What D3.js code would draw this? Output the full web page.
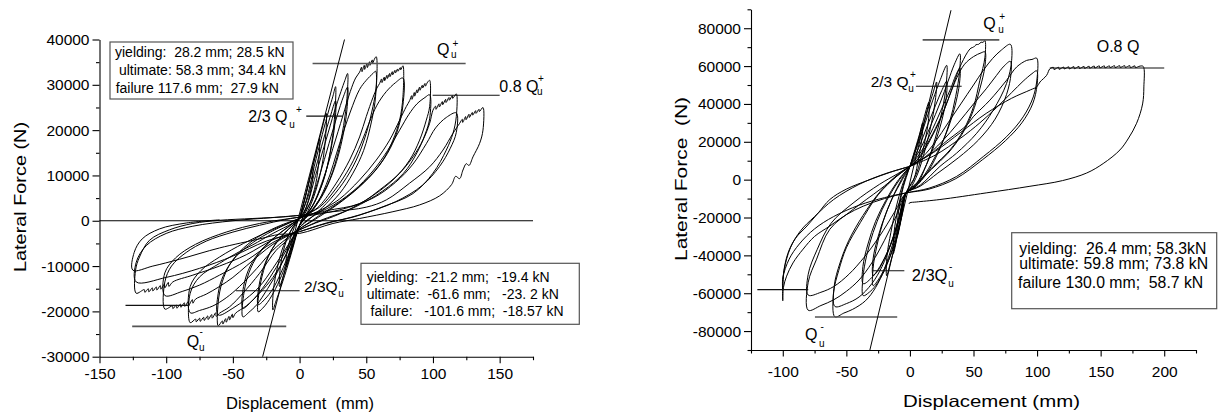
<!DOCTYPE html>
<html><head><meta charset="utf-8">
<script src="https://cdn.jsdelivr.net/npm/d3@7"></script>
<style>body{margin:0;background:#fff}svg text{font-family:Arial,"Liberation Sans",Helvetica,sans-serif;fill:#000}</style>
</head><body><svg id="c" width="1220" height="418"></svg>
<script>
// ---------- axis ticks ----------
const leftXTicks=[-150,-100,-50,0,50,100,150];
const leftXMinor=[-125,-75,-25,25,75,125,175];
const leftYTicks=[-30000,-20000,-10000,0,10000,20000,30000,40000];
const leftYMinor=[-25000,-15000,-5000,5000,15000,25000,35000];
const rightXTicks=[-100,-50,0,50,100,150,200];
const rightXMinor=[-125,-75,-25,25,75,125,175,225];
const rightYTicks=[-80000,-60000,-40000,-20000,0,20000,40000,60000,80000];
const rightYMinor=[-90000,-70000,-50000,-30000,-10000,10000,30000,50000,70000,90000];

// ---------- left specimen cycles: [displacement mm, force kN] ----------
const leftC10=[[0,0.5],[4,5],[7,8.5],[10,12],[9.5,9],[8,6],[5,3],[2,0.5],[0,-1],[-3,-3.5],[-6,-6.5],[-10,-10],[-9.5,-7],[-7,-4],[-4,-1.5],[0,0.5]];
const leftC15=[[0,0.5],[4,5],[9,11],[12,14.5],[15,18],[14.5,13.5],[12,8],[8,4],[3,1],[0,-1],[-4,-4.5],[-8,-8.5],[-12,-12],[-15,-14.5],[-14.5,-10.5],[-12,-6.5],[-8,-3],[-3,-0.5],[0,0.5]];
const leftC20=[[0,0.5],[4,4.8],[9,11],[14,17],[17,20.5],[20,23.7],[19.5,18.5],[17,12.5],[12,6.5],[6,2],[0,-1],[-5,-6],[-10,-11],[-15,-15.5],[-18,-18],[-20,-19.7],[-19.5,-15],[-16,-9.5],[-12,-5.5],[-6,-2],[0,0.5]];
const leftC27=[[0,0.5],[5,4.5],[11,12],[17,19],[22,24.5],[25,27.5],[27,29.6],[26.5,24],[24,17],[19,10],[12,4.5],[5,1],[0,-1],[-6,-6],[-12,-11],[-18,-15],[-24,-18],[-28,-19.4],[-31,-20.1],[-30.5,-16],[-27,-11],[-22,-7],[-14,-3.5],[-6,-1.2],[0,0.5]];
const leftC27b=[[0,0.5],[6,5],[12,11.5],[18,18],[23,23],[27,26.5],[26.5,21.5],[23,15],[18,9],[11,4],[4,0.8],[0,-1],[-7,-6.5],[-14,-11.5],[-20,-15],[-26,-17.3],[-31,-18.5],[-30.5,-14.5],[-26,-9.5],[-20,-6],[-12,-3],[-5,-1],[0,0.5]];
const leftC36=[[0,0.5],[5,3],[12,10],[20,18],[26,24],[31,28.5],[34,31],[36,32.5],[35.5,27],[33,21],[28,14],[21,8],[12,3.5],[4,0.5],[0,-1],[-8,-6],[-16,-11],[-24,-15],[-32,-18.5],[-38,-20.2],[-42.5,-21.2],[-42,-16.5],[-38,-11.5],[-31,-7.5],[-20,-4],[-9,-1.5],[0,0.5]];
const leftC36b=[[0,0.5],[8,4],[15,10],[22,17],[28,23],[33,27.5],[36,29.5],[35.5,24.5],[32,18],[26,11.5],[18,6],[9,2],[0,-1],[-10,-6.5],[-20,-11.5],[-28,-15],[-36,-17.8],[-42.5,-19.3],[-42,-14.5],[-37,-10],[-29,-6.5],[-18,-3.5],[-8,-1.2],[0,0.5]];
const leftC57=[[0,0.5],[5,1.5],[10,3.5],[17.5,9],[25,16],[32.5,23.2],[38,28.5],[42,31.5],[45,32.8],[46.5,33.9],[46.8,32.9],[48.5,34.3],[48.8,33.4],[50.5,34.7],[50.8,33.8],[52.5,35.1],[52.8,34.3],[54.5,35.5],[54.8,34.8],[56.5,35.9],[57.5,36.2],[57.5,29.6],[55,25.2],[50,19.3],[42.5,13.4],[32.5,8.3],[20,3.8],[8,0.5],[0,-1.5],[-5,-4],[-10,-7.5],[-20,-12.5],[-30,-16],[-40,-18.8],[-48,-20.4],[-50,-21.4],[-50.4,-20.6],[-52.5,-21.9],[-52.9,-21.1],[-55,-22.4],[-55.4,-21.6],[-57.5,-22.8],[-57.9,-22.1],[-61,-23.2],[-61,-18],[-58,-13.5],[-52,-9.5],[-42,-6],[-28,-3],[-14,-1],[0,0.5]];
const leftC57b=[[0,0.5],[10,2.5],[20,8],[30,17],[38,24],[45,29],[50,31],[55,32.5],[57,33],[57,27.5],[54,22],[48,15.5],[40,10.5],[30,6],[18,2.5],[5,0],[0,-1.5],[-10,-6],[-20,-10.5],[-30,-14.5],[-40,-17.2],[-50,-19.3],[-61,-20.8],[-61,-16],[-57,-12],[-48,-8],[-35,-4.8],[-20,-2.2],[0,0.5]];
const leftC77=[[0,0.8],[8,1.8],[15,3.3],[27.5,8.3],[37.5,13.4],[45,18.5],[50,23],[55,27.2],[58,29.3],[60,30.3],[61.5,31.3],[61.8,30.5],[63.5,31.7],[63.8,30.9],[65.5,32.1],[65.8,31.4],[67.5,32.5],[67.8,31.8],[69.5,32.9],[69.8,32.2],[71.5,33.2],[71.8,32.6],[73.5,33.5],[73.8,33],[75.5,33.8],[75.8,33.3],[77.5,34.2],[77.5,27.4],[75,22.2],[70,17.8],[62.5,13.4],[50,9],[32.5,4.6],[15,1.2],[5,-0.8],[0,-1.8],[-5,-3],[-10,-4.5],[-17.5,-6.5],[-30,-11.6],[-42.5,-16],[-52.5,-19],[-60,-20.4],[-62.5,-21.1],[-62.9,-20.3],[-65.5,-21.5],[-65.9,-20.7],[-68.5,-21.8],[-68.9,-21],[-71.5,-22],[-71.9,-21.3],[-74.5,-22.2],[-74.9,-21.5],[-77.5,-22.3],[-77.9,-21.7],[-82,-22.5],[-82,-16],[-75,-12.4],[-60,-9.4],[-45,-6.8],[-35,-5.3],[-20,-2.8],[-5,-0.5],[0,0.5]];
const leftC77b=[[0,0.8],[15,3],[27,7],[38,12],[46,17],[52,21.5],[58,25.5],[65,28.5],[72,30.5],[77.5,31.5],[77.5,25.5],[74,20.5],[68,16],[58,11.5],[45,7.5],[28,3.5],[10,0],[0,-1.8],[-10,-4],[-20,-6.5],[-32,-10.5],[-45,-14.5],[-55,-17],[-65,-18.8],[-75,-19.8],[-82,-20.3],[-82,-14.5],[-74,-11],[-60,-8],[-42,-5],[-22,-2.2],[0,0.5]];
const leftC97=[[0,0.8],[7.5,1.3],[20,3],[30,4.8],[45,9],[57.5,13.4],[67.5,17.8],[75,22.2],[80,25.2],[82.5,26.5],[84,27.6],[84.3,26.8],[86,28.3],[86.3,27.5],[88,28.9],[88.3,28.2],[90,29.5],[90.3,28.8],[92,29.9],[92.3,29.3],[94,30.3],[94.3,29.7],[96,30.6],[97.5,31],[97.5,25.2],[95,22.2],[90,17.8],[82.5,13.4],[70,9],[50,4.6],[30,1.5],[12,-0.5],[0,-2],[-10,-3.5],[-20,-5.2],[-30,-7.5],[-40,-10],[-50,-12.5],[-60,-14.5],[-70,-16.2],[-78,-17.3],[-80,-18.2],[-80.4,-17.4],[-83,-18.6],[-83.4,-17.8],[-86,-18.9],[-86.4,-18.1],[-89,-19.1],[-89.4,-18.4],[-92,-19.3],[-92.4,-18.6],[-95,-19.4],[-95.4,-18.8],[-101,-19.5],[-101,-13.5],[-96,-10],[-85,-7],[-70,-4.5],[-50,-2.5],[-30,-1],[-10,0.3],[0,0.8]];
const leftC97b=[[0,0.8],[20,2.6],[40,6.5],[55,11],[66,15.5],[75,20],[82,23.5],[88,25.8],[94,27.2],[97.5,27.8],[97.5,22.5],[94,19],[88,15],[78,10.5],[62,6.5],[40,2.8],[15,0],[0,-2],[-20,-4.8],[-40,-8.8],[-60,-12],[-75,-14.2],[-88,-15.6],[-101,-16.5],[-101,-11.5],[-93,-8.2],[-78,-5.2],[-55,-2.5],[-30,-0.6],[0,0.8]];
const leftC117=[[0,0.8],[20,2.2],[45,3.8],[60,6.8],[75,10.5],[85,14.1],[92.5,17.8],[97.5,21.5],[100,24.4],[102,25.3],[102.3,24.6],[104.5,25.8],[104.8,25.1],[107,26.3],[107.3,25.6],[109.5,26.8],[109.8,26.1],[112,27.2],[112.3,26.6],[114.5,27.6],[114.8,27],[117.5,28],[117.5,23],[115,19.3],[110,15.6],[100,10.5],[85,6],[62.5,3.1],[40,0.8],[20,-0.5],[0,-2.4],[-10,-3.2],[-20,-4.2],[-40,-7.5],[-60,-10],[-80,-12],[-95,-13.5],[-98,-14.5],[-98.4,-13.6],[-101,-14.8],[-101.4,-14],[-104,-15.1],[-104.4,-14.3],[-107,-15.3],[-107.4,-14.6],[-110,-15.5],[-110.4,-14.8],[-113,-15.7],[-113.4,-15],[-116,-15.8],[-116.4,-15.2],[-122.5,-16],[-123,-11],[-120,-8],[-112.5,-4.3],[-97.5,-2],[-80,-0.6],[-60,0.1],[-35,0.5],[-10,0.9],[0,1.2]];
const leftC117b=[[0,0.8],[30,2.4],[55,5],[72,8.5],[85,12.5],[95,17],[102,20.5],[110,22.8],[117.5,23.8],[117.5,19.5],[113,16],[105,12],[92,7.8],[72,4.2],[45,1.3],[20,-0.6],[0,-2.4],[-25,-4.5],[-50,-7.8],[-75,-10.5],[-100,-12.5],[-122.5,-13.5],[-122.5,-9.2],[-115,-5.5],[-100,-2.8],[-80,-1.2],[-50,0],[-20,0.7],[0,1.2]];
const leftC137=[[0,1.2],[25,2],[50,3],[65,4.6],[82.5,8.3],[97.5,11.9],[107.5,15.6],[115,19.3],[120,21.5],[122,22.4],[122.3,21.7],[124.5,23],[124.8,22.3],[127,23.5],[127.3,22.8],[129.5,23.9],[129.8,23.3],[132,24.3],[132.3,23.7],[134.5,24.6],[134.8,24.1],[137.5,25],[137.5,20],[135,17.1],[130,14.1],[127,12.2],[125,12.6],[122.5,11.2],[120,9.3],[117,9.8],[114,8],[105,5.5],[90,3.5],[70,2],[45,0.5],[25,-0.6],[0,-2.8],[-15,-3],[-30,-4],[-60,-6],[-90,-8.5],[-110,-10],[-125,-10.9],[-124,-7],[-118,-4],[-105,-1.8],[-85,-0.5],[-60,0.2]];
const leftCycles=[leftC10,leftC15,leftC20,leftC27,leftC27b,leftC36,leftC36b,leftC57,leftC57b,leftC77,leftC77b,leftC97,leftC97b,leftC117,leftC117b,leftC137];

// ---------- right specimen cycles: [displacement mm, force kN] ----------
const rightC10=[[0,7],[4,16],[8,25],[10,30],[9.5,22],[7,12],[3,0],[-3,-7],[-6,-18],[-10,-30],[-9.5,-20],[-6,-6],[-2,3],[0,7]];
const rightC15=[[0,7],[5,17],[10,30],[15,41],[14.5,31],[11,18],[5,3],[-3,-7],[-7,-20],[-10,-30],[-13,-39],[-12.5,-28],[-9,-14],[-4,0],[0,7]];
const rightC21=[[0,7],[5,17],[10,28],[15,39],[18,45.5],[21,51.6],[20,42],[17,30],[12,16],[6,3],[0,-5],[-3,-7],[-7,-20],[-11,-33],[-15,-43],[-18.3,-50.8],[-18,-40],[-15,-28],[-11,-15],[-6,-3],[0,7]];
const rightC29=[[0,7],[6,18],[12,30],[18,42],[24,53],[28.9,60.4],[28.5,50],[25.5,37],[20,22],[13,8],[5,-3],[-3,-7],[-8,-24],[-14,-38],[-20,-47],[-25,-53],[-28.9,-56],[-29,-47],[-26,-35],[-21,-22],[-14,-10],[-6,0],[0,7]];
const rightC29b=[[0,7],[7,17],[14,29],[20,39],[25,47],[28.9,52],[28.5,43],[25,31],[19,18],[11,5],[3,-4],[-3,-7],[-9,-22],[-15,-34],[-21,-43],[-25,-48],[-28.9,-50.5],[-29,-42],[-25,-30],[-19,-18],[-12,-7],[-5,2],[0,7]];
const rightC39=[[0,7],[8,16],[16,28],[24,41],[30,52],[35,61],[39.3,66.5],[39,57],[36,44],[31,30],[24,17],[14,4],[4,-4],[-3,-7],[-8,-22],[-14,-37],[-20,-48],[-27,-56],[-32,-59.5],[-36.7,-61.3],[-37,-52],[-34,-40],[-29,-28],[-22,-16],[-14,-6],[-6,2],[0,7]];
const rightC39b=[[0,7],[9,15],[18,27],[26,39],[32,48],[36,55],[39.3,59],[39,51],[35.5,39],[30,27],[22,15],[12,3],[3,-4.5],[-3,-7],[-9,-21],[-15,-34],[-22,-44],[-29,-51],[-36.7,-55],[-37,-46],[-33,-34],[-27,-22],[-19,-11],[-10,-1],[0,7]];
const rightC59=[[0,7],[5,10],[12,17],[20,27],[27,37],[33,48],[39,59],[45,67],[48,69.5],[50,70],[52,71.3],[54,71.5],[56,72.6],[57.5,72.5],[59,73.5],[59,64.7],[55,52.5],[50,38.5],[42,26],[31.5,15.7],[18.4,7],[5,-2],[-3,-7],[-8,-20],[-14,-35],[-20,-47],[-27,-57],[-35,-64],[-45,-68.5],[-52,-70.5],[-59,-72.5],[-60,-59.5],[-56,-48],[-50,-36],[-39,-22.7],[-25,-8],[-10,2],[0,7]];
const rightC59b=[[0,7],[8,12],[16,21],[24,32],[31,44],[37,54],[43,61],[50,65],[56,67],[59,67.5],[59,60],[55,48],[49,35],[41,24],[30,14],[17,5.5],[4,-3],[-3,-7],[-9,-21],[-15,-34],[-22,-46],[-30,-55],[-40,-62],[-50,-65.5],[-59,-67],[-59.5,-56],[-55,-44],[-48,-32],[-37,-19],[-23,-6],[-9,3],[0,7]];
const rightC79=[[0,7],[10,12],[20,20],[30,30],[40,40],[50,50],[58,58],[65,64],[72,68.5],[79,71.5],[80,63],[76,50.8],[65.5,36.7],[52.5,24.5],[36.7,14],[23.6,7],[8,-3],[-3,-7],[-10,-18],[-20,-32],[-30,-44],[-40,-53],[-50,-59],[-60,-63.5],[-70,-66.5],[-80,-69],[-80,-54.2],[-73.4,-42],[-63,-26.2],[-44.6,-15.7],[-23.6,-5.2],[-10,2],[0,7]];
const rightC79b=[[0,7],[12,12],[25,20],[38,30],[50,40],[60,48],[68,55],[74,60],[79,62.5],[79.5,56],[76,45],[67,32],[54,21],[38,11.5],[22,3.5],[8,-3.5],[-3,-7],[-12,-17],[-24,-30],[-36,-41],[-48,-50],[-60,-56.5],[-70,-59.5],[-80,-61],[-80,-50],[-73,-37],[-62,-23],[-44,-12],[-24,-2.5],[-10,3],[0,7]];
const rightC100=[[0,7],[15,13],[30,21],[45,29],[49.8,33.2],[62.9,42],[76,52.5],[83.9,59.5],[91.8,63],[96,63.5],[99.7,64.2],[100.1,54.2],[97,43.7],[89.1,33.2],[76,22.7],[57.7,12.2],[36.7,1.7],[15,-4.5],[-3,-7],[-20,-10],[-36.7,-14],[-50,-18.5],[-63,-24.5],[-75,-30],[-84,-36.7],[-92,-44],[-97,-51],[-99.5,-57],[-100,-64],[-99.7,-51],[-96,-39],[-90,-31],[-81,-24.5],[-72,-17.5],[-63,-10.5],[-50,-5],[-31.5,0],[-15,4],[0,7]];
const rightC100b=[[0,7],[20,13],[40,22],[55,30],[68,38],[80,46],[89,52],[96,56],[99.7,57.5],[100,50],[96.5,40],[88,30],[75,20.5],[57,10.5],[36,0.5],[15,-5],[-3,-7],[-20,-9.5],[-40,-13.5],[-60,-19.5],[-75,-26],[-87,-34],[-95,-42],[-100,-52],[-100,-58],[-99,-48],[-94,-36],[-86,-27],[-75,-19.5],[-60,-10.5],[-40,-2.5],[-20,3],[0,7]];
const rightFinal=[[0,7],[20,15],[40,25],[60,35],[80,43],[95,47.5],[99.7,49],[102.3,51.6],[107.5,55.1],[110.1,58.6],[113,59.3],[113.3,58.2],[117,59.4],[117.3,58.3],[121,59.5],[121.3,58.5],[125,59.6],[125.3,58.5],[129,59.7],[129.3,58.6],[133,59.8],[133.3,58.7],[137,59.8],[137.3,58.8],[141,59.9],[141.3,58.9],[145,60],[145.3,59],[149,60.1],[149.3,59.1],[153,60.1],[153.3,59.1],[157,60.1],[157.3,59.2],[161,60.2],[161.3,59.2],[165,60.2],[165.3,59.3],[169,60.2],[169.3,59.3],[173,60.2],[173.3,59.2],[177,60.1],[177.3,59.2],[181,60],[183.5,59.8],[184,49],[183,40],[178.3,29.8],[172,22],[165.2,15.7],[152,8.5],[139,3.5],[120,-0.5],[94.4,-3.5],[60,-7],[23.6,-10.5],[5,-11.8],[0,-12.2],[-1,-12.8]];
const rightCycles=[rightC10,rightC15,rightC21,rightC29,rightC29b,rightC39,rightC39b,rightC59,rightC59b,rightC79,rightC79b,rightC100,rightC100b,rightFinal];

// ---------- reference lines [x1, x2, force kN] ----------
const leftRefLines=[[9.75,124.5,34.7],[99.75,150,27.7],[5,32.5,23.1],[-47.75,0,-15.45],[-130.5,-82.5,-18.68],[-125.5,-10,-23.3]];
const leftZeroLine=[[-150,0],[175,0]];
const leftSecant=[[-27.7,-30],[33.7,40]];
const rightRefLines=[[10,70.3,73.86],[4.7,40.7,49.35],[110,200,58.95],[-29.6,-4.4,-48.14],[-120,-80,-58.1],[-74.7,-10,-72.6]];
const rightSecant=[[-31.5,-90],[32.3,89.5]];

const leftBox1=["yielding:  28.2 mm; 28.5 kN"," ultimate: 58.3 mm; 34.4 kN","failure 117.6 mm;  27.9 kN"];
const leftBox2=["yielding:  -21.2 mm;  -19.4 kN","ultimate:  -61.6 mm;   -23. 2 kN"," failure:   -101.6 mm;  -18.57 kN"];
const rightBox=["yielding:  26.4 mm; 58.3kN","ultimate: 59.8 mm; 73.8 kN","failure 130.0 mm;  58.7 kN"];

// ---------- drawing ----------
const svg=d3.select("#c");
const xL=d3.scaleLinear().domain([-150,175]).range([99.5,533]);
const yL=d3.scaleLinear().domain([-30000,40000]).range([356.7,39.5]);
const xR=d3.scaleLinear().domain([-125,225]).range([751,1196]);
const yR=d3.scaleLinear().domain([-90000,90000]).range([350,9.3]);
const fmt=d=>String(d);

function axes(x,y,xt,xm,yt,ym,xPad){
  const g=svg.append("g");
  const y0=y.range()[0], x0=x.range()[0];
  g.append("g").attr("transform",`translate(0,${y0})`)
    .call(d3.axisBottom(x).tickValues(xt).tickSize(6.5).tickSizeOuter(0).tickPadding(xPad).tickFormat(fmt));
  g.append("g").attr("transform",`translate(0,${y0})`)
    .call(d3.axisBottom(x).tickValues(xm).tickSize(3.5).tickFormat("")).select(".domain").remove();
  g.append("g").attr("transform",`translate(${x0},0)`)
    .call(d3.axisLeft(y).tickValues(yt).tickSize(7).tickSizeOuter(0).tickPadding(3).tickFormat(fmt));
  g.append("g").attr("transform",`translate(${x0},0)`)
    .call(d3.axisLeft(y).tickValues(ym).tickSize(3.5).tickFormat("")).select(".domain").remove();
  g.selectAll("text").attr("font-size",15.5).attr("font-family",'Arial,"Liberation Sans",sans-serif');
  g.selectAll("path,line").attr("stroke","#000").attr("stroke-width",1.1);
}
axes(xL,yL,leftXTicks,leftXMinor,leftYTicks,leftYMinor,5);
axes(xR,yR,rightXTicks,rightXMinor,rightYTicks,rightYMinor,9.5);

function curves(x,y,cycles){
  const line=d3.line().x(p=>x(p[0])).y(p=>y(p[1]*1000)).curve(d3.curveCatmullRom.alpha(0.5));
  svg.append("g").selectAll("path").data(cycles).join("path")
    .attr("d",line).attr("fill","none").attr("stroke","#000").attr("stroke-width",1.0).attr("stroke-linejoin","round");
}
svg.append("line").attr("x1",xL(leftZeroLine[0][0])).attr("x2",xL(leftZeroLine[1][0]))
  .attr("y1",yL(leftZeroLine[0][1])).attr("y2",yL(leftZeroLine[1][1])).attr("stroke","#000").attr("stroke-width",1);
curves(xL,yL,leftCycles);
curves(xR,yR,rightCycles);

function refLines(x,y,lines,secant){
  svg.append("g").selectAll("line").data(lines).join("line")
    .attr("x1",d=>x(d[0])).attr("x2",d=>x(d[1])).attr("y1",d=>y(d[2]*1000)).attr("y2",d=>y(d[2]*1000))
    .attr("stroke",(d,i)=>i===0||i===5?"#555":"#111").attr("stroke-width",(d,i)=>i===0||i===5?1.6:1.1);
  svg.append("line").attr("x1",x(secant[0][0])).attr("y1",y(secant[0][1]*1000))
    .attr("x2",x(secant[1][0])).attr("y2",y(secant[1][1]*1000)).attr("stroke","#000").attr("stroke-width",1);
}
refLines(xL,yL,leftRefLines,leftSecant);
refLines(xR,yR,rightRefLines,rightSecant);

function txt(s,x,y,fs,anchor){
  return svg.append("text").attr("x",x).attr("y",y).attr("font-size",fs).attr("text-anchor",anchor||"start").style("white-space","pre").text(s);
}
function qlab(pre,x,y,fs,sub,sup){
  txt(pre,x,y,fs);
  txt("u",sub[0],sub[1],10);
  txt(sup[2],sup[0],sup[1],10);
}
// left labels
qlab("Q",437,55,16,[451,58],[452.5,46.5,"+"]);
qlab("0.8 Q",499.3,91.5,16,[537,95],[538,82,"+"]);
qlab("2/3 Q",248.3,121.7,16,[289.3,128],[296,113,"+"]);
qlab("2/3Q",304,292,15.5,[338.3,296.7],[339.5,282,"-"]);
qlab("Q",186.7,346.5,16,[199,350.5],[199.5,335,"-"]);
// right labels
qlab("Q",983.3,29,16,[998.3,32.5],[999.3,20,"+"]);
txt("O.8 Q",1096.7,52,16);
qlab("2/3 Q",870.7,87,15.5,[908.3,91.7],[910,78,"+"]);
qlab("2/3Q",911.7,281,16.5,[948.3,286.7],[949,270,"-"]);
qlab("Q",805,339.5,16,[819,346.7],[820.5,330,"-"]);

function box(x,y,w,h,lines,xs,ys,fs){
  svg.append("rect").attr("x",x).attr("y",y).attr("width",w).attr("height",h)
    .attr("fill","none").attr("stroke","#555").attr("stroke-width",1.2);
  lines.forEach((s,i)=>txt(s,xs[i],ys[i],fs));
}
box(110,42,183,57,leftBox1,[115,115,115.7],[56.5,74.5,92.5],14);
box(361,263.3,218.3,61,leftBox2,[366.7,366.7,366.7],[282,298.5,315.5],14);
box(1011.7,232.7,205,76,rightBox,[1019.3,1019.3,1018],[253.5,268.5,287.5],15.8);

txt("Displacement  (mm)",300,409,16.5,"middle").attr("textLength",148).attr("lengthAdjust","spacingAndGlyphs");
txt("Displacement (mm)",991.5,406.5,16.5,"middle").attr("textLength",177).attr("lengthAdjust","spacingAndGlyphs");
svg.append("text").attr("transform","translate(25.5,197) rotate(-90)").attr("text-anchor","middle")
  .attr("font-size",17).attr("textLength",150).attr("lengthAdjust","spacingAndGlyphs").text("Lateral Force (N)");
svg.append("text").attr("transform","translate(687,179) rotate(-90)").attr("text-anchor","middle").style("white-space","pre")
  .attr("font-size",17).attr("textLength",164).attr("lengthAdjust","spacingAndGlyphs").text("Lateral Force  (N)");
</script></body></html>
